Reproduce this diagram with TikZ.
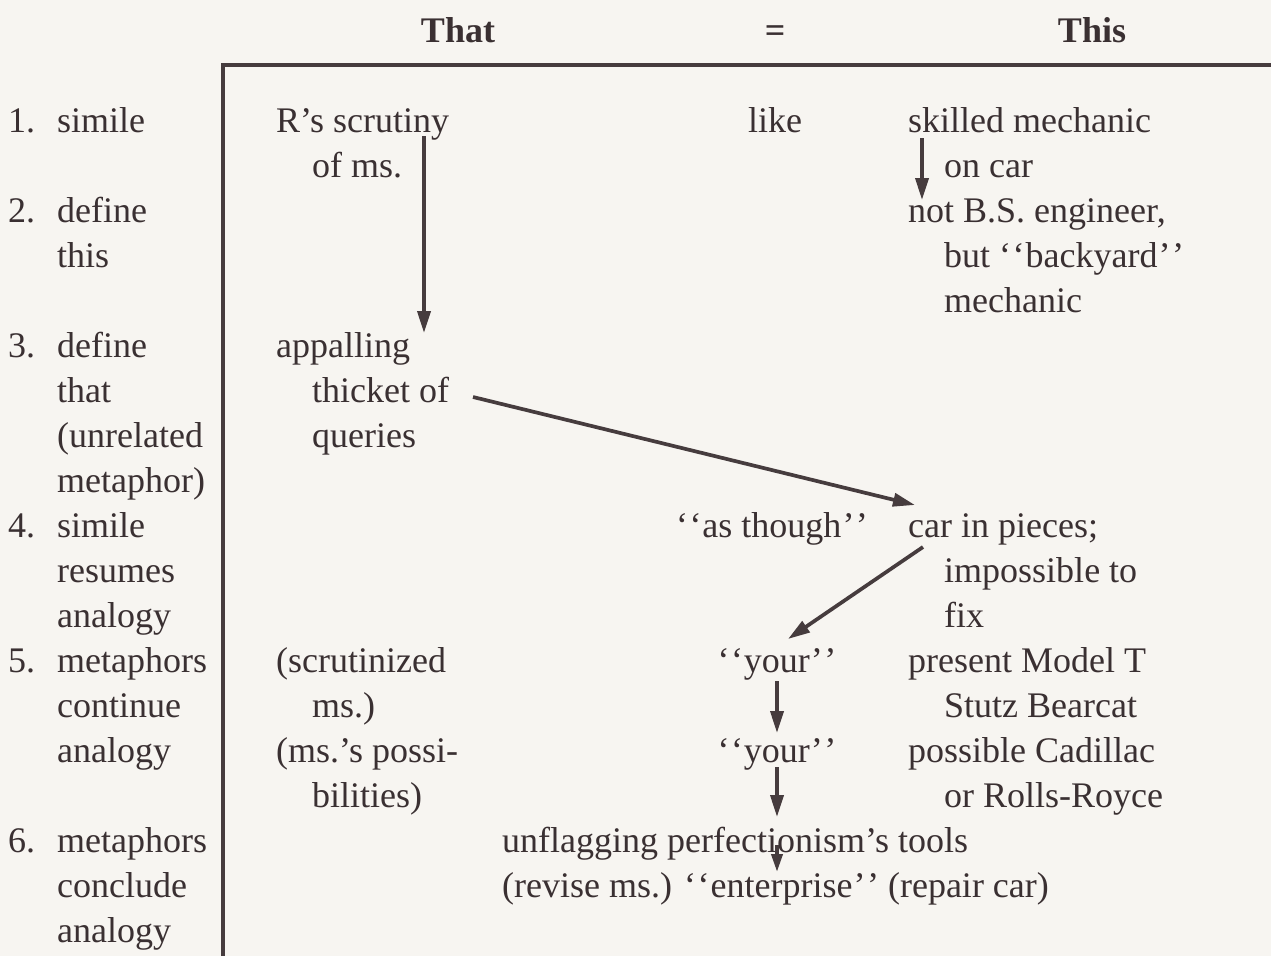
\documentclass[tikz,border=0pt]{standalone}
\usepackage{fontspec}
\setmainfont{Liberation Serif}
\usetikzlibrary{arrows.meta}
\definecolor{bg}{HTML}{F7F5F1}
\definecolor{ink}{HTML}{3A3032}
\definecolor{rulec}{HTML}{463C3E}
\newcommand{\myoq}{`\kern1.5pt`\kern1pt}
\newcommand{\mycq}{\kern1pt'\kern1.5pt'}
\tikzset{
  t/.style={anchor=base west,inner sep=0pt,text=ink,font=\fontsize{36}{45}\selectfont},
  tc/.style={t,anchor=base},
  hd/.style={tc,font=\fontsize{36}{45}\selectfont\bfseries},
  arr/.style={draw=rulec,line width=3.7pt,-{Triangle[length=22pt,width=13pt]}},
  frame/.style={draw=rulec,line width=4pt}
}
\begin{document}
\begin{tikzpicture}[x=1pt,y=-1pt]
\fill[bg] (0,0) rectangle (1271,956);
\useasboundingbox (0,0) rectangle (1271,956);
% frame
\coordinate (fr1) at (1271,65);
\coordinate (fr2) at (223,65);
\coordinate (fr3) at (223,956);
\draw[frame] (fr1) -- (fr2) -- (fr3);
% header
\node[hd] (hThat) at (458,42) {That};
\node[hd] (hEq) at (775,42) {=};
\node[hd] (hThis) at (1092,42) {This};
% left column
\node[t] (n1) at (8,132) {1.};
\node[t] (l1a) at (57,132) {simile};
\node[t] (n2) at (8,222) {2.};
\node[t] (l2a) at (57,222) {define};
\node[t] (l2b) at (57,267) {this};
\node[t] (n3) at (8,357) {3.};
\node[t] (l3a) at (57,357) {define};
\node[t] (l3b) at (57,402) {that};
\node[t] (l3c) at (57,447) {(unrelated};
\node[t] (l3d) at (57,492) {metaphor)};
\node[t] (n4) at (8,537) {4.};
\node[t] (l4a) at (57,537) {simile};
\node[t] (l4b) at (57,582) {resumes};
\node[t] (l4c) at (57,627) {analogy};
\node[t] (n5) at (8,672) {5.};
\node[t] (l5a) at (57,672) {metaphors};
\node[t] (l5b) at (57,717) {continue};
\node[t] (l5c) at (57,762) {analogy};
\node[t] (n6) at (8,852) {6.};
\node[t] (l6a) at (57,852) {metaphors};
\node[t] (l6b) at (57,897) {conclude};
\node[t] (l6c) at (57,942) {analogy};
% That column
\node[t] (c1a) at (276,132) {R's scrutiny};
\node[t] (c1b) at (312,177) {of ms.};
\node[t] (c3a) at (276,357) {appalling};
\node[t] (c3b) at (312,402) {thicket of};
\node[t] (c3c) at (312,447) {queries};
\node[t] (c5a) at (276,672) {(scrutinized};
\node[t] (c5b) at (312,717) {ms.)};
\node[t] (c5c) at (276,762) {(ms.'s possi-};
\node[t] (c5d) at (312,807) {bilities)};
% middle column
\node[tc] (m1) at (775,132) {like};
\node[tc] (m4) at (772,537) {\myoq as though\mycq};
\node[tc] (m5a) at (777,672) {\myoq your\mycq};
\node[tc] (m5b) at (777,762) {\myoq your\mycq};
% This column
\node[t] (r1a) at (908,132) {skilled mechanic};
\node[t] (r1b) at (944,177) {on car};
\node[t] (r2a) at (908,222) {not B.S. engineer,};
\node[t] (r2b) at (944,267) {but \myoq backyard\mycq};
\node[t] (r2c) at (944,312) {mechanic};
\node[t] (r4a) at (908,537) {car in pieces;};
\node[t] (r4b) at (944,582) {impossible to};
\node[t] (r4c) at (944,627) {fix};
\node[t] (r5a) at (908,672) {present Model T};
\node[t] (r5b) at (944,717) {Stutz Bearcat};
\node[t] (r5c) at (908,762) {possible Cadillac};
\node[t] (r5d) at (944,807) {or Rolls-Royce};
% bottom
\node[t] (b1) at (502,852) {unflagging perfectionism's tools};
\node[t] (b2) at (502,897) {(revise ms.) \myoq enterprise\mycq{} (repair car)};
% arrow end points
\coordinate (a1s) at (424,136);
\coordinate (a1e) at (424,333);
\coordinate (a2s) at (922,138);
\coordinate (a2e) at (922,200);
\coordinate (a3s) at (473,397);
\coordinate (a3e) at (915,505);
\coordinate (a4s) at (923,547);
\coordinate (a4e) at (788,639);
\coordinate (a5s) at (777,681);
\coordinate (a5e) at (777,733);
\coordinate (a6s) at (777,767);
\coordinate (a6e) at (777,817);
\coordinate (a7s) at (777,845);
\coordinate (a7e) at (777,872);
\draw[arr] (a1s) -- (a1e);
\draw[arr] (a2s) -- (a2e);
\draw[arr] (a3s) -- (a3e);
\draw[arr] (a4s) -- (a4e);
\draw[arr] (a5s) -- (a5e);
\draw[arr] (a6s) -- (a6e);
\draw[arr,-{Triangle[length=18pt,width=11pt]}] (a7s) -- (a7e);
\end{tikzpicture}
\end{document}
